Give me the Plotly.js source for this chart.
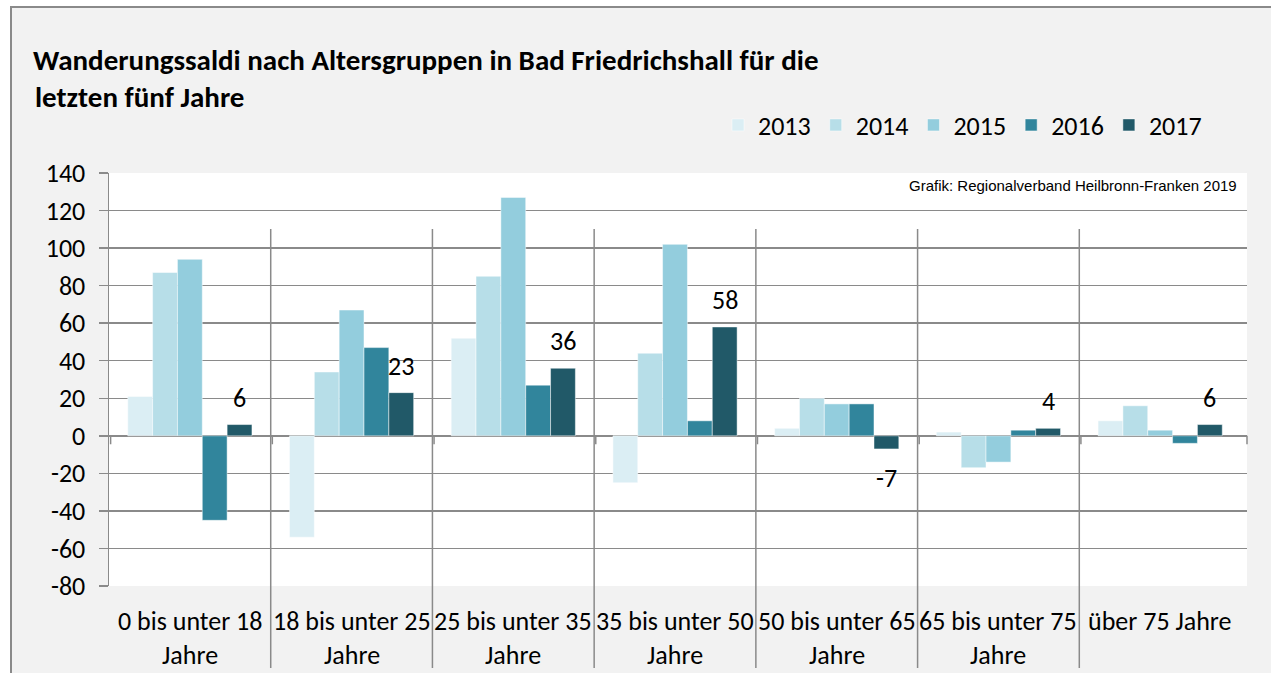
<!DOCTYPE html>
<html>
<head>
<meta charset="utf-8">
<script src="https://cdn.plot.ly/plotly-3.0.1.min.js"></script>
<style>
  html, body { margin: 0; padding: 0; background: #ffffff; width: 1271px; height: 673px; overflow: hidden; }
  #frame { position: absolute; left: 10px; top: 6px; width: 1275px; height: 680px; background: #F2F2F2; border-left: 2px solid #8a8a8a; border-top: 2px solid #8a8a8a; }
  #chart { position: absolute; left: 0; top: 0; width: 1271px; height: 673px; }
</style>
</head>
<body>
<div id="frame"></div>
<div id="chart"></div>
<script>
// ---- data ----
const categoriesLine1 = ["0 bis unter 18", "18 bis unter 25", "25 bis unter 35", "35 bis unter 50", "50 bis unter 65", "65 bis unter 75", "über 75 Jahre"];
const categoriesLine2 = ["Jahre", "Jahre", "Jahre", "Jahre", "Jahre", "Jahre", ""];
const years = ["2013", "2014", "2015", "2016", "2017"];
const values2013 = [21, -54, 52, -25, 4, 2, 8];
const values2014 = [87, 34, 85, 44, 20, -17, 16];
const values2015 = [94, 67, 127, 102, 17, -14, 3];
const values2016 = [-45, 47, 27, 8, 17, 3, -4];
const values2017 = [6, 23, 36, 58, -7, 4, 6];
const yTicks = [-80, -60, -40, -20, 0, 20, 40, 60, 80, 100, 120, 140];

// ---- styles ----
const colors = ["#DBEEF4", "#B7DEE8", "#93CDDD", "#31859C", "#215968"];
const FONT = "Carlito, Lato, 'Open Sans', sans-serif";
const LBL = 26;
const series = [values2013, values2014, values2015, values2016, values2017];
const xIdx = categoriesLine1.map((c, i) => i);

const traces = series.map((vals, k) => ({
  type: "bar",
  name: years[k],
  x: xIdx,
  y: vals,
  marker: { color: colors[k], line: { color: "rgba(255,255,255,0.6)", width: 0.8 } },
  hoverinfo: "x+y+name"
}));

const plotLeft = 109, plotRight = 24, plotTop = 173, plotBottom = 87;
const plotW = 1271 - plotLeft - plotRight;
const plotH = 673 - plotTop - plotBottom;
const xMax = categoriesLine1.length - 0.5 + 0.037;
const unitW = plotW / (xMax + 0.5);
const bargap = 0.232;
const barW = unitW * (1 - bargap) / years.length;

const annotations = [];
// data labels for 2017
values2017.forEach((v, i) => {
  annotations.push({
    x: i, y: v, xref: "x", yref: "y",
    text: String(v), showarrow: false,
    xshift: 2 * barW, yshift: v >= 0 ? 27 : -29,
    font: { family: FONT, size: LBL, color: "#000" }
  });
});
// category labels (two lines)
categoriesLine1.forEach((c, i) => {
  annotations.push({ x: i, y: (673 - plotBottom - 621) / plotH, xref: "x", yref: "paper", text: c, showarrow: false,
    yanchor: "middle", font: { family: FONT, size: LBL, color: "#000" } });
  if (categoriesLine2[i]) {
    annotations.push({ x: i, y: (673 - plotBottom - 655) / plotH, xref: "x", yref: "paper", text: categoriesLine2[i], showarrow: false,
      yanchor: "middle", font: { family: FONT, size: LBL, color: "#000" } });
  }
});
// title line 2
annotations.push({
  xref: "paper", yref: "paper", x: (33 - plotLeft) / plotW, y: (673 - plotBottom - 97) / plotH,
  xanchor: "left", yanchor: "middle", showarrow: false,
  text: "<b>letzten fünf Jahre</b>", font: { family: FONT, size: 29, color: "#000" }
});
// source note
annotations.push({
  xref: "paper", yref: "paper", x: 0.993, y: (673 - plotBottom - 185) / plotH, xanchor: "right", yanchor: "middle", showarrow: false,
  text: "Grafik: Regionalverband Heilbronn-Franken 2019",
  font: { family: "Arial, 'Liberation Sans', sans-serif", size: 15, color: "#000" }
});

const shapes = [];
// separators between categories
for (let i = 0; i < categoriesLine1.length - 1; i++) {
  shapes.push({ type: "line", xref: "x", yref: "paper", x0: i + 0.5, x1: i + 0.5, y0: (673 - plotBottom - 229) / plotH, y1: (673 - plotBottom - 668) / plotH,
    line: { color: "#8a8a8a", width: 1.5 } });
}
// small ticks on zero line
for (let i = 0; i < categoriesLine1.length; i++) {
  shapes.push({ type: "line", xref: "x", yref: "y", x0: i - 0.49, x1: i - 0.49, y0: 0, y1: -4.5,
    line: { color: "#8a8a8a", width: 1.5 } });
}
shapes.push({ type: "line", xref: "paper", yref: "y", x0: 1, x1: 1, y0: 0, y1: -4.5,
  line: { color: "#8a8a8a", width: 1.5 } });

const layout = {
  width: 1271, height: 673,
  paper_bgcolor: "rgba(0,0,0,0)",
  plot_bgcolor: "#ffffff",
  margin: { l: plotLeft, r: plotRight, t: plotTop, b: plotBottom, pad: 0 },
  title: {
    text: "<b>Wanderungssaldi nach Altersgruppen in Bad Friedrichshall für die</b>",
    x: 33 / 1271, xanchor: "left", xref: "container",
    y: 1 - 60 / 673, yanchor: "middle", yref: "container",
    font: { family: FONT, size: 29, color: "#000" }
  },
  barmode: "group",
  bargap: bargap,
  bargroupgap: 0,
  showlegend: true,
  legend: {
    orientation: "h", x: (718 - plotLeft) / plotW, xanchor: "left",
    y: (673 - plotBottom - 125) / plotH, yanchor: "middle",
    font: { family: FONT, size: LBL, color: "#000" },
    bgcolor: "rgba(0,0,0,0)", traceorder: "normal", itemwidth: 30
  },
  xaxis: {
    type: "linear", range: [-0.5, xMax],
    showticklabels: false, showgrid: false, zeroline: false, ticks: "", showline: false, fixedrange: true
  },
  yaxis: {
    range: [-80, 140], tickmode: "array", tickvals: yTicks, ticktext: yTicks.map(String),
    showgrid: true, gridcolor: "#8a8a8a", gridwidth: 1.5,
    zeroline: true, zerolinecolor: "#8a8a8a", zerolinewidth: 1.5,
    showline: true, linecolor: "#8a8a8a", linewidth: 1.5,
    ticks: "outside", ticklen: 9, tickcolor: "#8a8a8a", tickwidth: 1.5,
    tickfont: { family: FONT, size: LBL, color: "#000" }, ticklabelstandoff: 8, fixedrange: true
  },
  annotations: annotations,
  shapes: shapes
};

Plotly.newPlot("chart", traces, layout, { displayModeBar: false, staticPlot: true });
</script>
</body>
</html>
